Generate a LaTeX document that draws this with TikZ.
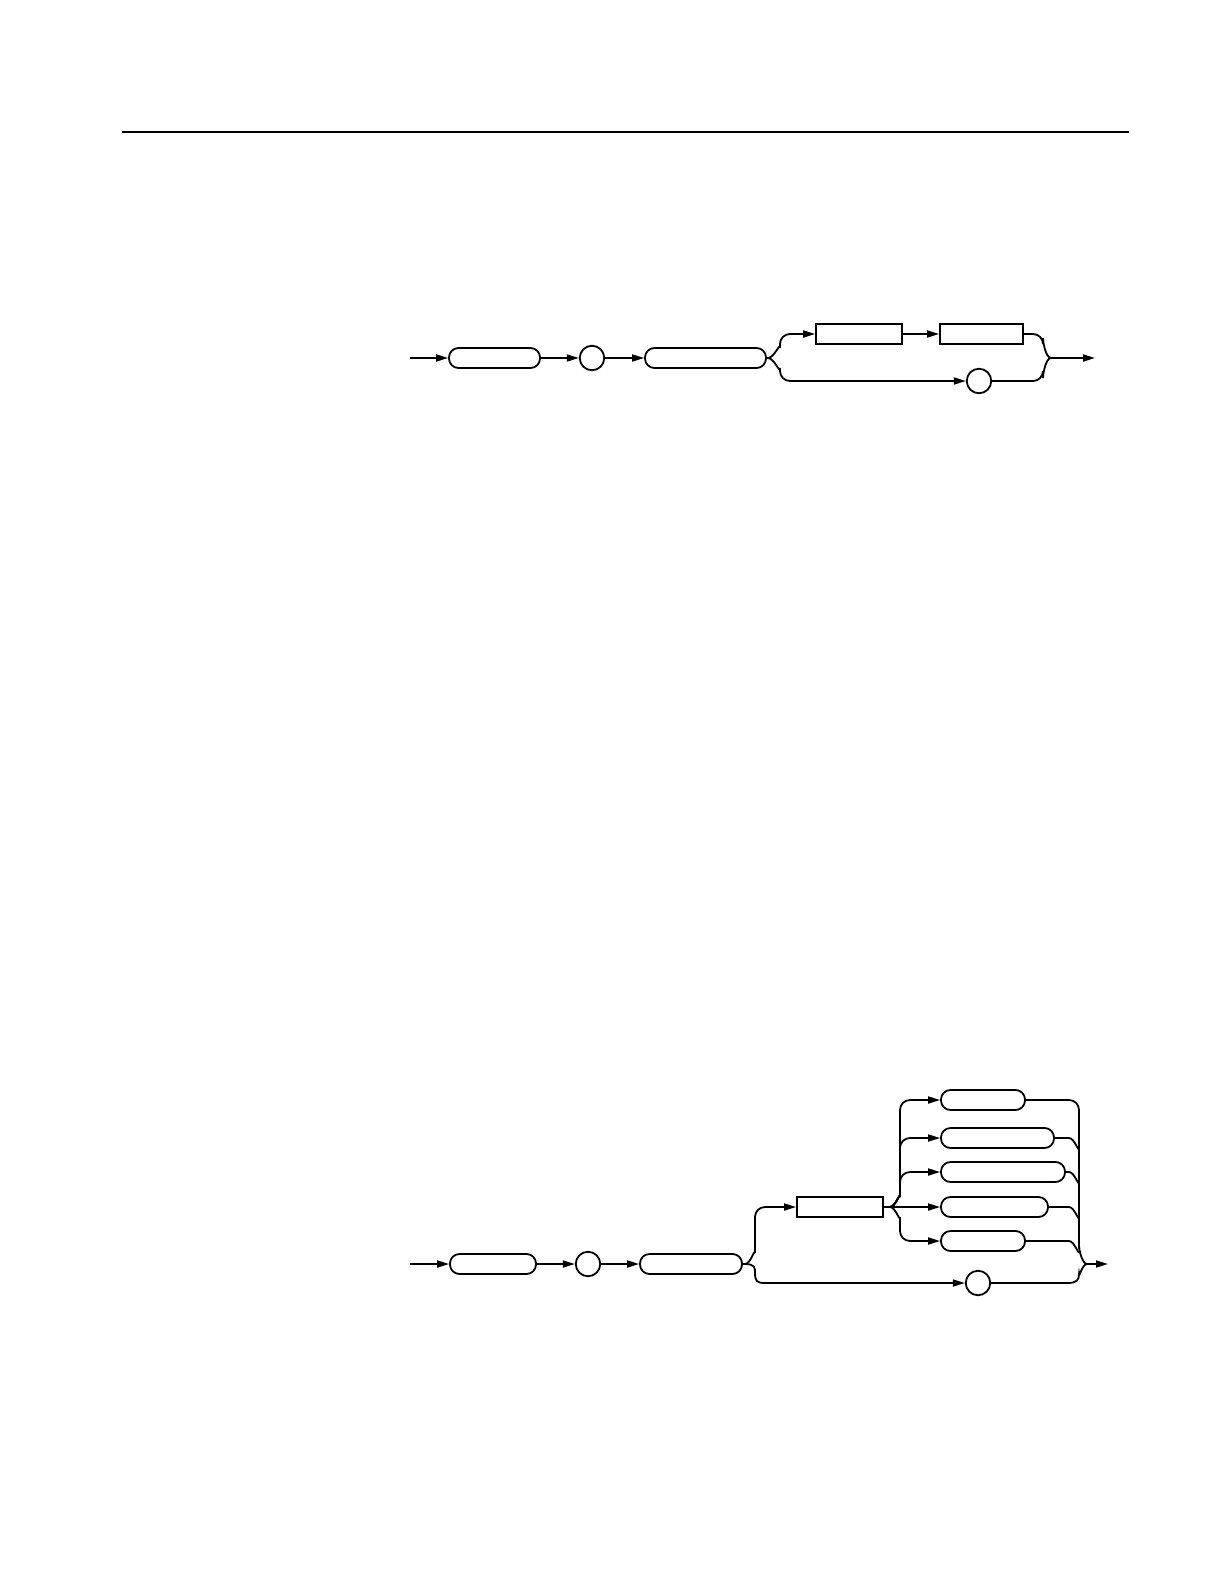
\documentclass[tikz,border=0pt]{standalone}
\usetikzlibrary{arrows.meta}
\tikzset{
  ln/.style={line width=1.8pt},
  arr/.style={ln,-{Triangle[length=12pt,width=7pt]}},
  rbox/.style={draw,ln,rounded corners=9.5pt,minimum height=20pt,inner sep=0pt},
  sbox/.style={draw,ln,rectangle,minimum height=20pt,inner sep=0pt},
  cnode/.style={draw,ln,circle,minimum size=24.5pt,inner sep=0pt},
}
\begin{document}
\begin{tikzpicture}[x=1pt,y=-1pt]
\useasboundingbox (0,0) rectangle (1224,1584);
% top rule
\coordinate (rl) at (122,132);
\coordinate (rr) at (1129,132);
\draw[line width=1.2pt] (rl) -- (rr);

% ---------- diagram 1 ----------
\coordinate (s1) at (410,358);
\node[rbox,minimum width=91pt] (b1) at (494.5,358) {};
\node[cnode] (c1) at (592,358) {};
\node[rbox,minimum width=121pt] (b2) at (705.5,358) {};
\node[sbox,minimum width=86pt] (r1) at (859,334) {};
\node[sbox,minimum width=83pt] (r2) at (981.5,334) {};
\node[cnode] (c2) at (979,381) {};
\coordinate (p1) at (768,358);
\coordinate (m1) at (1051,358);
\coordinate (e1) at (1095,358);

\draw[arr] (s1) -- (b1);
\draw[arr] (b1) -- (c1);
\draw[arr] (c1) -- (b2);
\draw[ln] (b2.east) -- (p1);
\draw[arr] (p1) to[out=0,in=90] (780,348) [rounded corners=10pt] |- (r1.west);
\draw[arr] (p1) to[out=0,in=-90] (780,368) [rounded corners=10pt] |- (c2.west);
\draw[arr] (r1) -- (r2);
\draw[ln] (r2.east) [rounded corners=10pt] -| (1043,348) [sharp corners] to[out=90,in=180] (m1);
\draw[ln] (c2.east) [rounded corners=10pt] -| (1043,368) [sharp corners] to[out=-90,in=180] (m1);
\draw[arr] (m1) -- (e1);

% ---------- diagram 2 ----------
\coordinate (s2) at (410,1264);
\node[rbox,minimum width=86pt] (d1) at (493,1264) {};
\node[cnode] (d2) at (588,1264) {};
\node[rbox,minimum width=102pt] (d3) at (691,1264) {};
\node[sbox,minimum width=86pt] (R) at (840,1207) {};
\node[cnode] (L) at (978,1283) {};
\node[rbox,minimum width=84pt] (ka) at (983,1100) {};
\node[rbox,minimum width=113pt] (kb) at (997.5,1138) {};
\node[rbox,minimum width=124pt] (kc) at (1003,1172) {};
\node[rbox,minimum width=107pt] (kd) at (994.5,1207) {};
\node[rbox,minimum width=84pt] (ke) at (983,1241) {};
\coordinate (p2) at (745,1264);
\coordinate (q2) at (890,1207);
\coordinate (m2) at (1087,1264);
\coordinate (e2) at (1108,1264);

\draw[arr] (s2) -- (d1);
\draw[arr] (d1) -- (d2);
\draw[arr] (d2) -- (d3);
\draw[ln] (d3.east) -- (p2);
\draw[arr] (p2) to[out=0,in=90] (755,1253) [rounded corners=10pt] |- (R.west);
\draw[arr] (p2) .. controls (755,1264) and (755,1268) .. (755,1273) .. controls (755,1281) and (757,1283) .. (765,1283) -- (L.west);
\draw[arr] (R.east) -- (kd.west);
\draw[arr] (q2) to[out=0,in=90] (900,1197) [rounded corners=10pt] |- (ka.west);
\draw[arr] (q2) to[out=0,in=90] (900,1197) [rounded corners=10pt] |- (kb.west);
\draw[arr] (q2) to[out=0,in=90] (900,1197) [rounded corners=10pt] |- (kc.west);
\draw[arr] (q2) to[out=0,in=-90] (900,1217) [rounded corners=10pt] |- (ke.west);
% right merge
\draw[ln] (ka.east) [rounded corners=10pt] -| (1079,1255) [sharp corners] to[out=90,in=180] (m2);
\draw[ln] (kb.east) -- (1069,1138) to[out=0,in=-90] (1079,1148);
\draw[ln] (kc.east) -- (1069,1172) to[out=0,in=-90] (1079,1182);
\draw[ln] (kd.east) -- (1069,1207) to[out=0,in=-90] (1079,1217);
\draw[ln] (ke.east) -- (1069,1241) to[out=0,in=-90] (1079,1251);
\draw[ln] (L.east) -- (1067,1283) .. controls (1077,1283) and (1079,1280) .. (1079,1274) to[out=-90,in=180] (m2);
\draw[arr] (m2) -- (e2);
\end{tikzpicture}
\end{document}
